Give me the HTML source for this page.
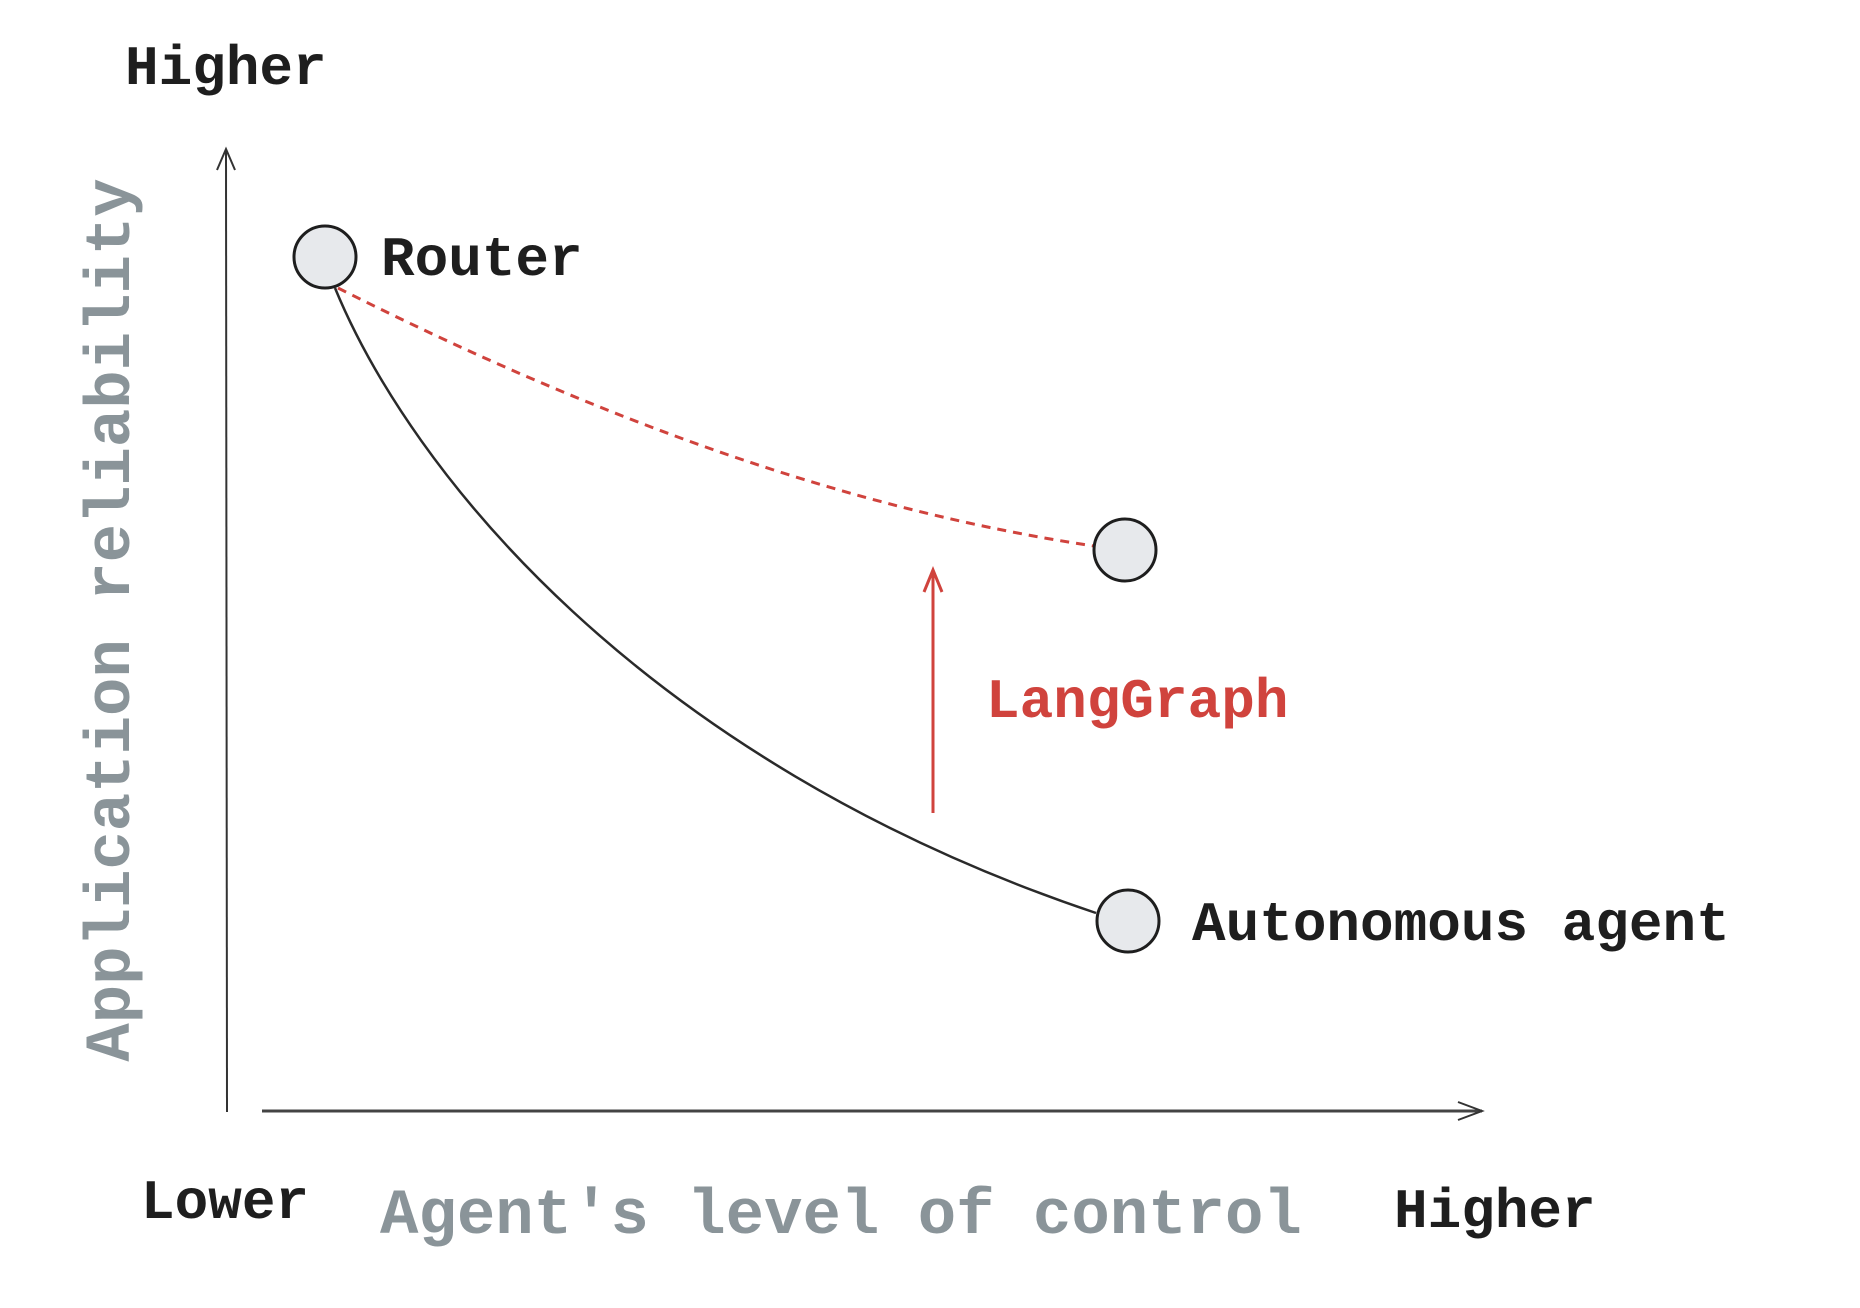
<!DOCTYPE html>
<html><head><meta charset="utf-8"><style>
html,body{margin:0;padding:0;background:#fff;}
svg{display:block}
text{font-family:"Liberation Mono",monospace;font-weight:bold;}
</style></head><body>
<svg width="1860" height="1308" viewBox="0 0 1860 1308" xmlns="http://www.w3.org/2000/svg">
<rect width="1860" height="1308" fill="#fff"/>
<!-- axes -->
<line x1="226" y1="150" x2="227" y2="1112" stroke="#333" stroke-width="2"/>
<polyline points="217,170 226,149 235,170" fill="none" stroke="#333" stroke-width="2"/>
<line x1="262" y1="1111" x2="1482" y2="1111" stroke="#444" stroke-width="3"/>
<polyline points="1458,1102 1482,1111 1458,1120" fill="none" stroke="#333" stroke-width="2"/>
<!-- curves -->
<path d="M335,288 C410,470 640,760 1096,913" fill="none" stroke="#2a2a2a" stroke-width="2.5"/>
<path d="M338,288 C600,420 850,510 1094,546" fill="none" stroke="#d0433d" stroke-width="3" stroke-dasharray="9,7"/>
<!-- red arrow -->
<line x1="933" y1="813" x2="933" y2="572" stroke="#d0433d" stroke-width="3"/>
<polyline points="924,592 933,570 942,592" fill="none" stroke="#d0433d" stroke-width="3"/>
<!-- nodes -->
<circle cx="325" cy="257" r="31" fill="#e7e9ec" stroke="#1e1e1e" stroke-width="3"/>
<circle cx="1125" cy="550" r="31" fill="#e7e9ec" stroke="#1e1e1e" stroke-width="3"/>
<circle cx="1128" cy="921" r="31" fill="#e7e9ec" stroke="#1e1e1e" stroke-width="3"/>
<!-- labels -->
<text x="125" y="84" font-size="56" fill="#1e1e1e">Higher</text>
<text x="381" y="275" font-size="56" fill="#1e1e1e">Router</text>
<text x="1192" y="940" font-size="56" fill="#1e1e1e">Autonomous agent</text>
<text x="986" y="717" font-size="56" fill="#d0433d">LangGraph</text>
<text x="141" y="1218" font-size="56" fill="#1e1e1e">Lower</text>
<text x="1394" y="1227" font-size="56" fill="#1e1e1e">Higher</text>
<text x="380" y="1233" font-size="64" fill="#8a9499">Agent's level of control</text>
<text transform="translate(129,620) rotate(-90)" text-anchor="middle" font-size="64" fill="#8a9499">Application reliability</text>
</svg>
</body></html>
